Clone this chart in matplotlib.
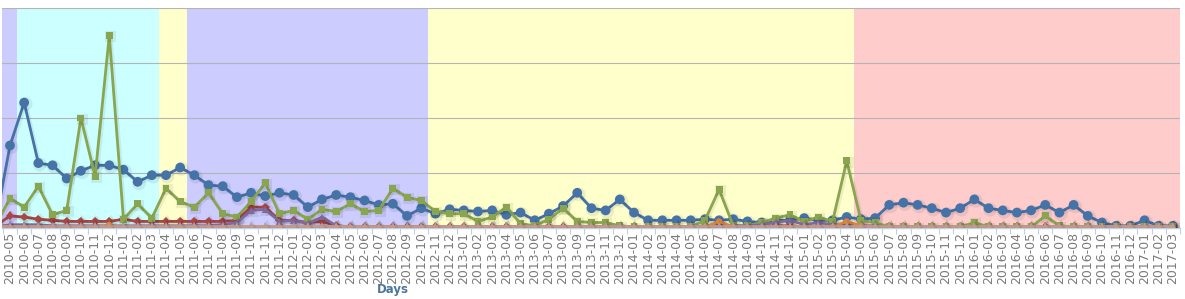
import matplotlib
matplotlib.use("Agg")
import matplotlib.pyplot as plt
import matplotlib.patheffects as pe
import numpy as np
import pandas as pd

# === Daten ===
months = [str(p) for p in pd.period_range("2010-04", "2017-03", freq="M")]

blue = [6, 75, 114, 59, 57, 45, 52, 57, 57, 53, 42, 48, 48, 55, 48, 39, 38, 28,
        32, 29, 32, 30, 19, 26, 30, 28, 25, 21, 22, 11, 18, 13, 17, 16, 15, 16,
        12, 14, 7, 13, 20, 32, 18, 16, 26, 14, 7, 7, 7, 7, 8, 7, 8, 6, 5, 7, 7,
        9, 7, 7, 10, 8, 9, 21, 23, 21, 18, 14, 18, 26, 18, 16, 14, 16, 21, 14,
        21, 11, 5, 2, 2, 7, 2, 2]
green = [3,
         27, 19, 38, 12, 16, 100, 47, 175, 8, 22,
         9, 36, 24, 19, 32, 13, 10, 24, 41, 13,
         16, 8, 17, 15, 22, 15, 16, 36, 28, 25,
         15, 13, 13, 6, 10, 19, 4, 2, 8, 18,
         6, 5, 5, 2, 1, 1, 1, 1, 1, 7,
         35, 2, 2, 5, 9, 12, 6, 10, 6, 61,
         7, 5, 1, 1, 1, 1, 1, 1, 5, 1,
         1, 1, 1, 11, 2, 1, 1, 1, 1, 1,
         1, 1, 1]
red = [2,
       11, 10, 8, 7, 6, 6, 6, 6, 8, 6,
       6, 6, 6, 6, 6, 6, 7, 19, 19, 7,
       7, 5, 6, 2, 1, 1, 1, 1, 1, 1,
       1, 1, 1, 1, 1, 1, 1, 1, 1, 1,
       1, 1, 1, 1, 1, 1, 1, 1, 1, 1,
       2, 1, 1, 1, 2, 2, 1, 1, 1, 2,
       1, 1, 1, 1, 1, 1, 1, 1, 1, 1,
       1, 1, 1, 1, 1, 1, 1, 1, 1, 1,
       1, 1, 1]
purple = [1,
          3, 3, 3, 2, 2, 2, 2, 2, 2, 2,
          2, 2, 2, 2, 2, 3, 5, 16, 17, 6,
          7, 4, 10, 2, 1, 1, 1, 1, 1, 1,
          1, 1, 1, 1, 1, 1, 1, 1, 1, 1,
          1, 1, 1, 1, 1, 1, 1, 1, 1, 2,
          2, 2, 2, 3, 5, 7, 3, 5, 3, 4,
          2, 2, 1, 1, 1, 1, 1, 1, 1, 1,
          1, 1, 1, 1, 1, 1, 1, 1, 1, 1,
          1, 1, 1]
orange = [0,
          0, 0, 0, 0, 0, 0, 0, 3, 0, 0,
          0, 0, 0, 0, 0, 0, 0, 0, 0, 0,
          0, 0, 0, 0, 0, 0, 0, 0, 0, 0,
          0, 0, 0, 0, 0, 0, 0, 0, 0, 0,
          0, 0, 0, 0, 0, 0, 0, 0, 0, 1,
          6, 1, 0, 0, 0, 0, 0, 0, 1, 6,
          2, 0, 0, 0, 0, 0, 0, 0, 0, 0,
          0, 0, 0, 0, 0, 0, 0, 0, 0, 0,
          0, 0, 0]
base = [2] * len(months)

# Hintergrundbaender (Start-Monat, End-Monat, Farbe)
bands = [("2010-04", "2010-05", "#CCCCFF"),
         ("2010-06", "2011-03", "#CCFFFF"),
         ("2011-04", "2011-05", "#FFFFCC"),
         ("2011-06", "2012-10", "#CCCCFF"),
         ("2012-11", "2015-04", "#FFFFCC"),
         ("2015-05", "2017-03", "#FFCCCC")]

# === Figur ===
fig = plt.figure(figsize=(11.85, 2.99), dpi=100)
ax = fig.add_axes([2 / 1185, 71 / 299, 1178 / 1185, 220 / 299])

x = np.arange(len(months))
x_left, x_right = 0.436, len(months) - 0.5

for start, end, col in bands:
    a = max(months.index(start) - 0.5, x_left)
    b = months.index(end) + 0.5
    ax.axvspan(a, b, color=col, lw=0, zorder=0)

shadow = [pe.SimpleLineShadow(offset=(1, -1), shadow_color="k", alpha=0.07, linewidth=3),
          pe.Normal()]

series = [(blue, "#4572A7", "o", 7),
          (red, "#AA4643", "D", 4.5),
          (green, "#89A54E", "s", 5),
          (purple, "#80699B", "^", 5),
          (orange, "#DB843D", "o", 4.5),
          (base, "#C09A90", "^", 5)]
for vals, col, mk, ms in series:
    ax.plot(x, vals, color=col, lw=2, marker=mk, markersize=ms,
            markeredgewidth=0, zorder=3, path_effects=shadow, clip_on=True)

ax.set_yticks([0, 50, 100, 150, 200])
ax.yaxis.grid(True, color="#B4B4B4", lw=0.8)
for gl in ax.get_ygridlines():
    gl.set_zorder(1)
ax.tick_params(axis="y", length=0, labelleft=False)

ax.set_xticks(x)
ax.set_xticklabels(months, rotation=90, fontsize=9, color="#7A7A7A")
ax.set_xticks(x + 0.5, minor=True)
ax.tick_params(axis="x", which="major", length=0, pad=3)
ax.tick_params(axis="x", which="minor", length=4, width=0.8, color="#C0D0E0", direction="out")

# Grenzen erst nach set_xticks setzen (set_xticks erweitert sonst die Achse)
ax.set_xlim(x_left, x_right)
ax.set_ylim(0, 200)

for side in ("top", "right", "left"):
    ax.spines[side].set_visible(False)
ax.spines["bottom"].set_color("#C0D0E0")
ax.spines["bottom"].set_linewidth(1)

fig.text(393 / 1185, 1 - 289 / 299, "Days", ha="center", va="center",
         fontsize=8.5, fontweight="bold", color="#4D759E")

fig.savefig("out.png", dpi=100)
